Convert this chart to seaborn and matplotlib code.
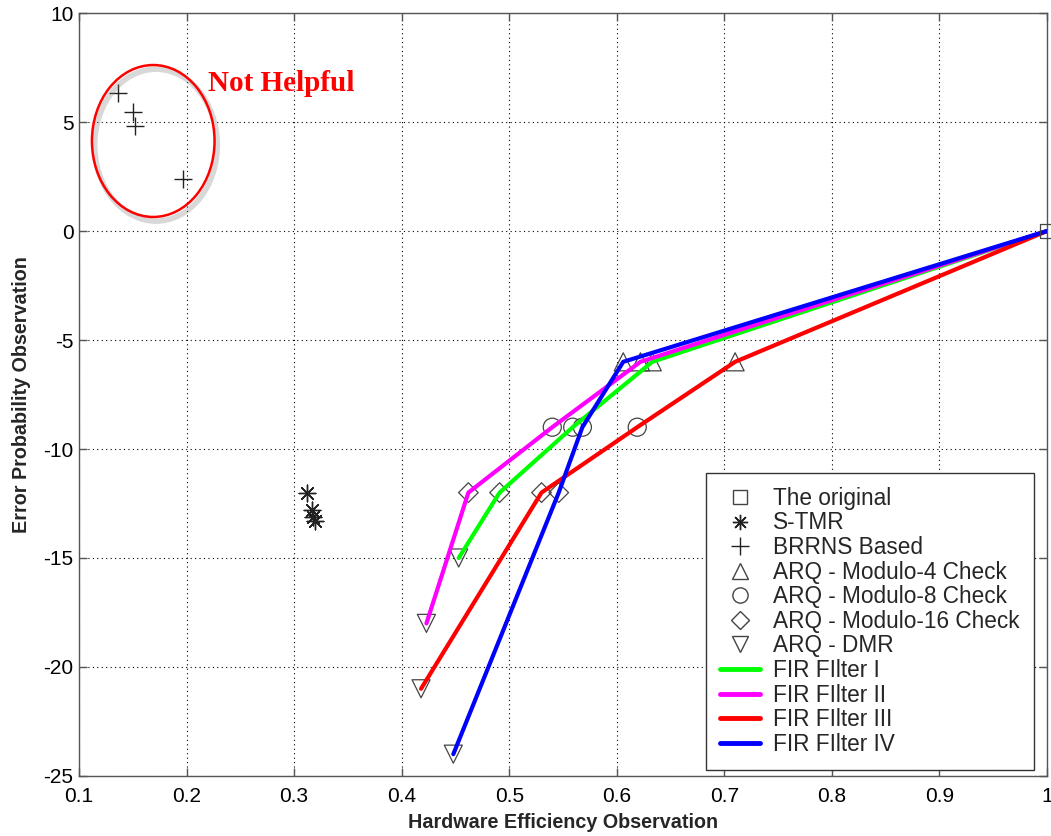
import numpy as np
import pandas as pd
import seaborn as sns
import matplotlib
matplotlib.use("Agg")
import matplotlib.pyplot as plt
from matplotlib.lines import Line2D
from matplotlib.patches import Ellipse
import matplotlib.patheffects as pe

# ---------------- data ----------------
filters = ["FIR FIlter I", "FIR FIlter II", "FIR FIlter III", "FIR FIlter IV"]
line_colors = ["#00ff00", "#ff00ff", "#ff0000", "#0000ff"]

# each filter path: original -> Mod-4 -> Mod-8 -> Mod-16 -> DMR
eff_f1 = [1.0, 0.633, 0.559, 0.491, 0.453]
err_f1 = [0, -6, -9, -12, -15]
eff_f2 = [1.0, 0.622, 0.540, 0.462, 0.423]
err_f2 = [0, -6, -9, -12, -18]
eff_f3 = [1.0, 0.710, 0.619, 0.530, 0.418]
err_f3 = [0, -6, -9, -12, -21]
eff_f4 = [1.0, 0.606, 0.568, 0.546, 0.448]
err_f4 = [0, -6, -9, -12, -24]

stmr_eff = [0.312, 0.317, 0.318, 0.319]
stmr_err = [-12.0, -12.8, -13.1, -13.3]
brrns_eff = [0.136, 0.150, 0.152, 0.197]
brrns_err = [6.33, 5.46, 4.82, 2.39]

orig_eff = [1.0]
orig_err = [0]
x_ticks = [0.1, 0.2, 0.3, 0.4, 0.5, 0.6, 0.7, 0.8, 0.9, 1.0]
x_tick_labels = ["0.1", "0.2", "0.3", "0.4", "0.5", "0.6", "0.7", "0.8", "0.9", "1"]
y_ticks = [-25, -20, -15, -10, -5, 0, 5, 10]
y_tick_labels = ["-25", "-20", "-15", "-10", "-5", "0", "5", "10"]

marker_labels = ["The original", "S-TMR", "BRRNS Based", "ARQ - Modulo-4 Check",
                 "ARQ - Modulo-8 Check", "ARQ - Modulo-16 Check", "ARQ - DMR"]

# ---------------- build frames ----------------
effs = [eff_f1, eff_f2, eff_f3, eff_f4]
errs = [err_f1, err_f2, err_f3, err_f4]
rows = []
for name, e, r in zip(filters, effs, errs):
    for i, (xx, yy) in enumerate(zip(e, r)):
        rows.append({"filter": name, "step": i, "eff": xx, "err": yy})
df = pd.DataFrame(rows)

sns.set_theme(style="white")
plt.rcParams["font.family"] = ["Liberation Sans", "DejaVu Sans"]
plt.rcParams["axes.unicode_minus"] = False

fig = plt.figure(figsize=(10.51, 8.36), dpi=100)
ax = fig.add_axes([0.0752, 0.0718, 0.9962 - 0.0752, 0.9844 - 0.0718])

mec = "#444444"
star = (8, 2, 0)
# ARQ markers (open)
arq_markers = ["^", "o", "D", "v"]
arq_sizes = [13, 13, 10, 13]
for step, (m, ms) in enumerate(zip(arq_markers, arq_sizes), start=1):
    sub = df[df["step"] == step]
    sns.scatterplot(data=sub, x="eff", y="err", marker=m, s=ms ** 2,
                    ax=ax, legend=False, zorder=3)
    ax.collections[-1].set_facecolor("none")
    ax.collections[-1].set_edgecolor(mec)
    ax.collections[-1].set_linewidth(0.9)

# Lines on top
sns.lineplot(data=df, x="eff", y="err", hue="filter", hue_order=filters,
             palette=line_colors, sort=False, estimator=None, units="filter",
             linewidth=3, ax=ax, legend=False, zorder=4)

# original
sns.scatterplot(x=orig_eff, y=orig_err, marker="s", s=10 ** 2, ax=ax, legend=False,
                zorder=5, clip_on=False)
ax.collections[-1].set_facecolor("none")
ax.collections[-1].set_edgecolor(mec)
ax.collections[-1].set_linewidth(0.9)

# S-TMR
sns.scatterplot(x=stmr_eff, y=stmr_err, marker=star, s=12 ** 2, color="#222222",
                linewidth=1.0, ax=ax, legend=False, zorder=5)
# BRRNS
sns.scatterplot(x=brrns_eff, y=brrns_err, marker="+", s=13 ** 2, color="#222222",
                linewidth=1.0, ax=ax, legend=False, zorder=5)

# Ellipse with shadow
ell = Ellipse((0.169, 4.13), 0.114, 6.97, facecolor="none", edgecolor="#ff0000",
              linewidth=1.8, zorder=6,
              path_effects=[pe.SimpleLineShadow(offset=(2, -3), shadow_color="gray",
                                                alpha=0.3, linewidth=4), pe.Normal()])
ax.add_patch(ell)
ax.text(0.22, 6.75, "Not Helpful", color="#ff0000", fontsize=21, fontweight="bold",
        family=["Liberation Serif", "DejaVu Serif"], va="center", ha="left", zorder=6)

# axes
ax.set_xlim(0.1, 1.0)
ax.set_ylim(-25, 10)
ax.set_xticks(x_ticks)
ax.set_xticklabels(x_tick_labels)
ax.set_yticks(y_ticks)
ax.set_yticklabels(y_tick_labels)
ax.tick_params(direction="in", length=6, width=1.0, labelsize=15, color="#555555",
               labelcolor="black", top=True, right=True, bottom=True, left=True)
ax.tick_params(axis="x", pad=8)
ax.tick_params(axis="y", pad=4)
ax.grid(True, linestyle=(0, (1, 3)), color="black", linewidth=0.8)
for s in ax.spines.values():
    s.set_color("#555555")
    s.set_linewidth(1.0)
ax.set_xlabel("Hardware Efficiency Observation", fontsize=14.2, fontweight="bold", labelpad=5)
ax.set_ylabel("Error Probability Observation", fontsize=14.2, fontweight="bold", labelpad=9)

# legend
lms = 11
handles = [
    Line2D([], [], linestyle="none", marker="s", markersize=lms - 1, markerfacecolor="none", markeredgecolor=mec),
    Line2D([], [], linestyle="none", marker=star, markersize=lms, color="#222222"),
    Line2D([], [], linestyle="none", marker="+", markersize=lms + 2, color="#222222"),
    Line2D([], [], linestyle="none", marker="^", markersize=lms, markerfacecolor="none", markeredgecolor=mec),
    Line2D([], [], linestyle="none", marker="o", markersize=lms, markerfacecolor="none", markeredgecolor=mec),
    Line2D([], [], linestyle="none", marker="D", markersize=lms - 2, markerfacecolor="none", markeredgecolor=mec),
    Line2D([], [], linestyle="none", marker="v", markersize=lms, markerfacecolor="none", markeredgecolor=mec),
]
for c in line_colors:
    handles.append(Line2D([], [], color=c, linewidth=3.5))
labels = marker_labels + filters
leg = ax.legend(handles, labels, loc="lower right",
                bbox_to_anchor=(1 - 13 / 968, 6 / 763), borderaxespad=0,
                fontsize=16.3, frameon=True,
                fancybox=False, edgecolor="#333333", framealpha=1,
                handlelength=1.77, labelspacing=0.07,
                borderpad=0.63, handletextpad=0.57)
leg.get_frame().set_linewidth(1.0)
leg.set_zorder(10)

fig.savefig("out.png", dpi=100)
